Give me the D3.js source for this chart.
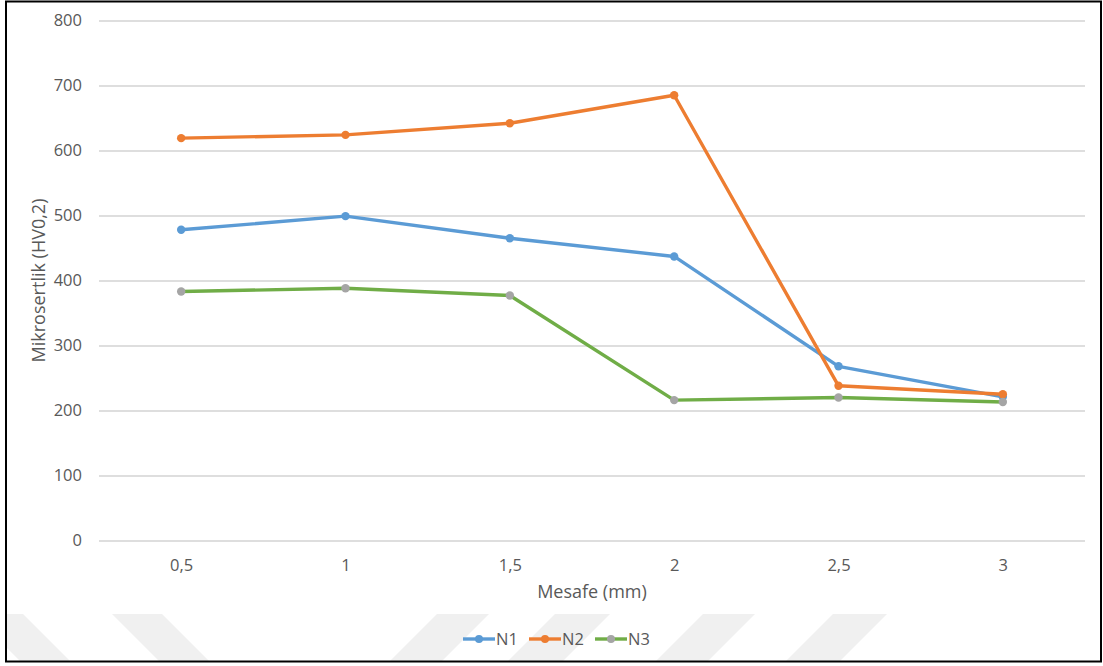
<!DOCTYPE html>
<html>
<head>
<meta charset="utf-8">
<script src="https://cdn.jsdelivr.net/npm/d3@7"></script>
<style>
  html, body { margin: 0; padding: 0; background: #ffffff; }
  svg { display: block; }
  text { font-family: "Open Sans", "Liberation Sans", sans-serif; fill: #595959; }
</style>
</head>
<body>
<svg id="chart" width="1103" height="666"></svg>
<script>
// Distance from surface (mm) and microhardness readings
const categories = ["0,5", "1", "1,5", "2", "2,5", "3"];
const seriesNames = ["N1", "N2", "N3"];
const n1 = [478, 499, 465, 437, 268, 221];
const n2 = [619, 624, 642, 685, 238, 225];
const n3 = [383, 388, 377, 216, 220, 213];
const yTicks = [0, 100, 200, 300, 400, 500, 600, 700, 800];

const seriesValues = [n1, n2, n3];
const lineColors = ["#5b9bd5", "#ed7d31", "#70ad47"];
const markerColors = ["#5b9bd5", "#ed7d31", "#a5a5a5"];

const svg = d3.select("#chart");

const plot = { left: 99, right: 1085, top: 20.5, bottom: 540.5 };

// Faint diagonal band pattern along the bottom of the frame
const bandDefs = [
  { x0: -27, x1: 23, shift: 48 },
  { x0: 112, x1: 162, shift: 48 },
  { x0: 437, x1: 489, shift: -48 },
  { x0: 555, x1: 610, shift: -48 },
  { x0: 703, x1: 755, shift: -48 },
  { x0: 833, x1: 887, shift: -48 }
];
svg.append("defs").append("clipPath").attr("id", "frameClip")
  .append("rect").attr("x", 6).attr("y", 1.5).attr("width", 1095).attr("height", 660);
const bandTop = 614, bandBottom = 662;
svg.append("g").attr("clip-path", "url(#frameClip)")
  .selectAll("path").data(bandDefs).join("path")
  .attr("d", d => `M${d.x0},${bandTop} L${d.x1},${bandTop} L${d.x1 + d.shift},${bandBottom} L${d.x0 + d.shift},${bandBottom} Z`)
  .attr("fill", "#f0f0f0");

// Scales
const x = d3.scalePoint().domain(categories).range([plot.left, plot.right]).padding(0.5);
const y = d3.scaleLinear().domain([0, 800]).range([plot.bottom, plot.top]);

// Horizontal gridlines + y tick labels
const yAxis = d3.axisLeft(y).tickValues(yTicks).tickSize(-(plot.right - plot.left)).tickPadding(17).tickFormat(d3.format("d"));
const gy = svg.append("g").attr("transform", `translate(${plot.left},0)`).call(yAxis);
gy.attr("font-size", null).attr("font-family", null);
gy.select(".domain").remove();
gy.selectAll(".tick line").attr("stroke", "#d3d3d3").attr("stroke-width", 1.5);
gy.selectAll(".tick text").style("font-size", "16.5px").attr("fill", "#595959");

// X tick labels
const xAxis = d3.axisBottom(x).tickSize(0).tickPadding(0);
const gx = svg.append("g").attr("transform", `translate(0,${plot.bottom})`).call(xAxis);
gx.attr("font-size", null).attr("font-family", null);
gx.select(".domain").remove();
gx.selectAll(".tick text").style("font-size", "16.5px").attr("fill", "#595959")
  .attr("dy", null).attr("y", 30);

// Axis titles
svg.append("text")
  .attr("x", (plot.left + plot.right) / 2).attr("y", 598)
  .attr("text-anchor", "middle").style("font-size", "18px")
  .text("Mesafe (mm)");
svg.append("text")
  .attr("transform", `translate(45,${(plot.top + plot.bottom) / 2}) rotate(-90)`)
  .attr("text-anchor", "middle").style("font-size", "18px")
  .text("Mikrosertlik (HV0,2)");

// Series lines and markers
const line = d3.line().x((d, i) => x(categories[i])).y(d => y(d));
seriesValues.forEach((vals, s) => {
  const g = svg.append("g");
  g.append("path").datum(vals)
    .attr("d", line)
    .attr("fill", "none")
    .attr("stroke", lineColors[s])
    .attr("stroke-width", 3.4)
    .attr("stroke-linejoin", "round")
    .attr("stroke-linecap", "round");
  g.selectAll("circle").data(vals).join("circle")
    .attr("cx", (d, i) => x(categories[i]))
    .attr("cy", d => y(d))
    .attr("r", 4.2)
    .attr("fill", markerColors[s]);
});

// Legend
const legendX = [463, 529, 595];
const legendY = 639;
const lg = svg.append("g");
seriesNames.forEach((name, s) => {
  const lx = legendX[s];
  lg.append("line").attr("x1", lx).attr("x2", lx + 32).attr("y1", legendY).attr("y2", legendY)
    .attr("stroke", lineColors[s]).attr("stroke-width", 3.4);
  lg.append("circle").attr("cx", lx + 16).attr("cy", legendY).attr("r", 4).attr("fill", markerColors[s]);
  lg.append("text").attr("x", lx + 33).attr("y", legendY).attr("dy", "0.36em")
    .style("font-size", "16.5px").text(name);
});

// Outer frame
svg.append("rect").attr("x", 6).attr("y", 1.5).attr("width", 1095).attr("height", 660)
  .attr("fill", "none").attr("stroke", "#000").attr("stroke-width", 2);
</script>
</body>
</html>
